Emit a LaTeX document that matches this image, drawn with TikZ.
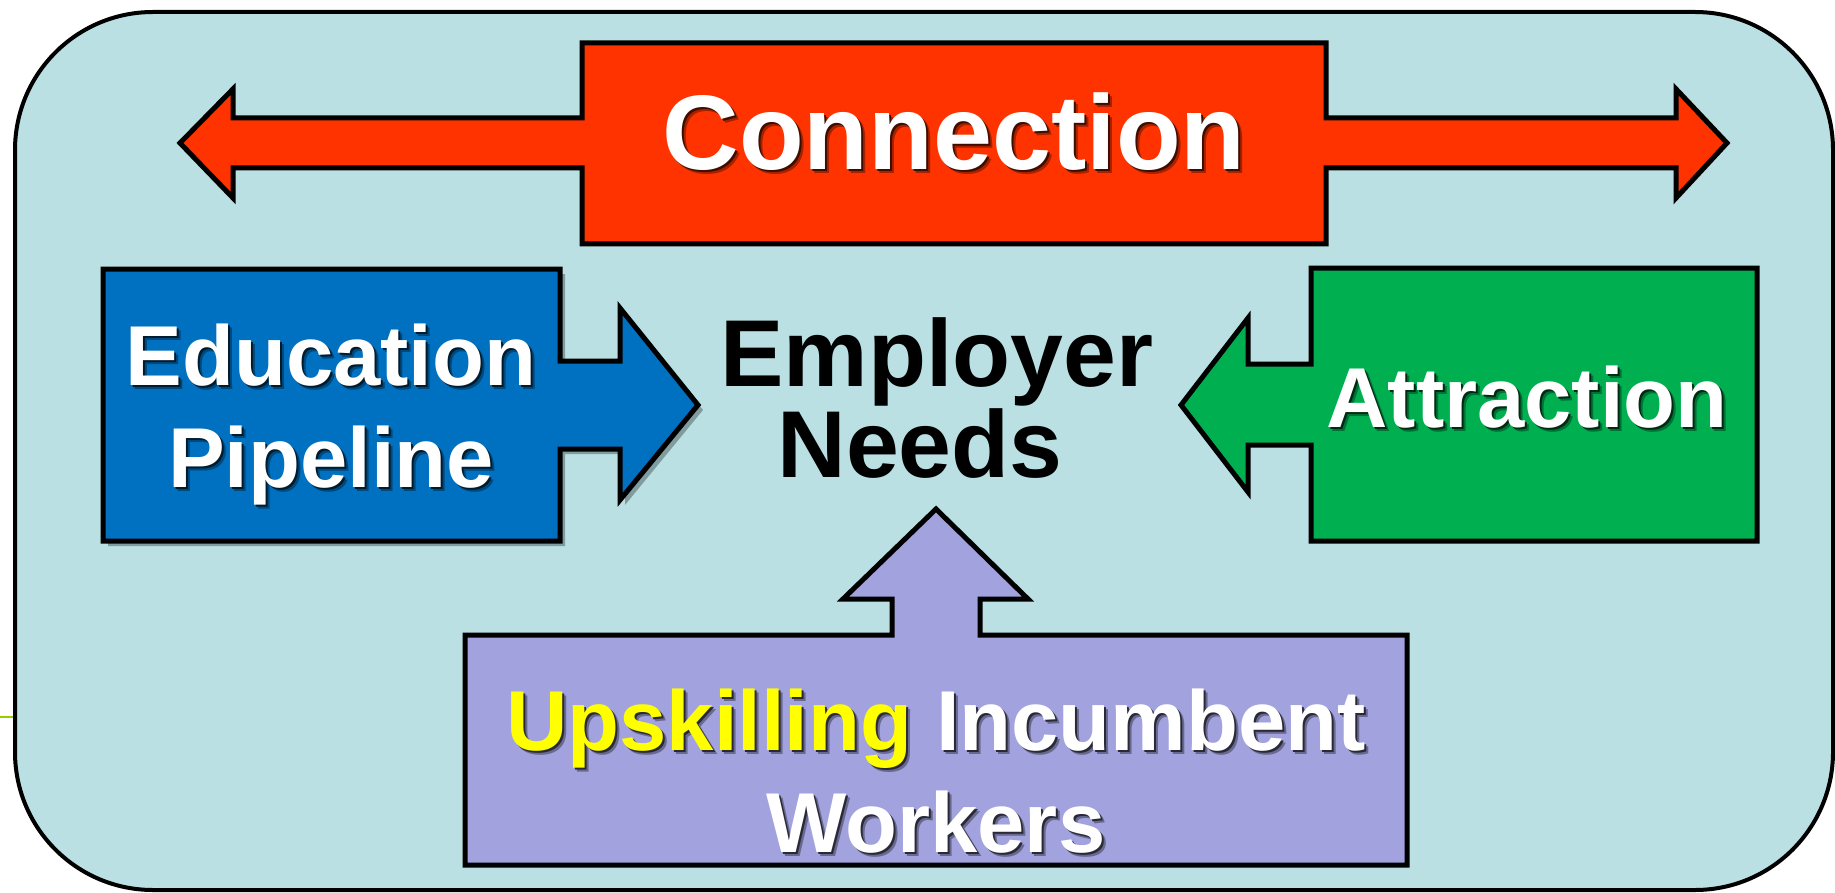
\documentclass[tikz,border=0pt]{standalone}
\usepackage{fontspec}
\newfontfamily\slidefont{Liberation Sans}
\usepackage{tikz}

\definecolor{panelblue}{HTML}{BAE0E3}
\definecolor{connred}{HTML}{FF3300}
\definecolor{edublue}{HTML}{0070C0}
\definecolor{attrgreen}{HTML}{00B050}
\definecolor{upviolet}{HTML}{A2A2DE}
\definecolor{upyellow}{HTML}{FFFF00}
\definecolor{stubgreen}{HTML}{99CC00}

\newcommand{\hlword}{\color{upyellow}}
\newcommand{\castshadow}[2]{%
  \rlap{\hspace{4pt}\raisebox{-4pt}{\color{black!35!#1}\let\hlword\relax #2}}%
  \rlap{\hspace{2pt}\raisebox{-2pt}{\color{black!75!#1}\let\hlword\relax #2}}%
  #2}

\def\edushape{(103,269) -- (560,269) -- (560,361) -- (620,361) -- (620,308) -- (698,405)
  -- (620,500) -- (620,449) -- (560,449) -- (560,541) -- (103,541) -- cycle}

\begin{document}
\begin{tikzpicture}[x=1pt, y=-1pt,
    outline/.style={draw=black, line width=5pt, line join=miter},
    titlelabel/.style={anchor=base, inner sep=0pt, text=white,
      font=\slidefont\bfseries\fontsize{106}{120}\selectfont},
    boxlabel/.style={anchor=base, inner sep=0pt, text=white,
      font=\slidefont\bfseries\fontsize{85}{102}\selectfont},
    needlabel/.style={anchor=base, inner sep=0pt, text=black,
      font=\slidefont\bfseries\fontsize{95}{102}\selectfont}]
    \useasboundingbox (0,0) rectangle (1835,893);

    \draw[stubgreen, line width=1.5pt] (0,717) -- (14,717);
    \draw[fill=panelblue, line width=4pt, rounded corners=138pt] (15,12) rectangle (1833,890);

    % connection
    \draw[outline, fill=connred] (180,143) -- (233,89) -- (233,118) -- (582,118) -- (582,43)
      -- (1326,43) -- (1326,118) -- (1676,118) -- (1676,89) -- (1727,143) -- (1676,198)
      -- (1676,168) -- (1326,168) -- (1326,244) -- (582,244) -- (582,168) -- (233,168)
      -- (233,198) -- cycle;

    % education pipeline
    \fill[black, opacity=.3, shift={(5,5)}] \edushape;
    \draw[outline, fill=edublue] \edushape;

    % attraction
    \draw[outline, fill=attrgreen] (1757,268) -- (1311,268) -- (1311,364) -- (1248,364)
      -- (1248,318) -- (1181,405) -- (1248,492) -- (1248,445) -- (1311,445) -- (1311,541)
      -- (1757,541) -- cycle;

    % upskilling
    \draw[outline, fill=upviolet] (465,635) -- (892,635) -- (892,599) -- (843,599)
      -- (936,509) -- (1028,599) -- (980,599) -- (980,635) -- (1407,635) -- (1407,865)
      -- (465,865) -- cycle;

    \node[titlelabel] (conn) at (954,170) {\castshadow{connred}{Connection}};
    \node[boxlabel] (edu1) at (331,385) {\castshadow{edublue}{Education}};
    \node[boxlabel] (edu2) at (331,487) {\castshadow{edublue}{Pipeline}};
    \node[boxlabel] (attr) at (1527,427) {\castshadow{attrgreen}{Attraction}};
    \node[boxlabel] (up1) at (936,750) {\castshadow{upviolet}{{\hlword Upskilling} Incumbent}};
    \node[boxlabel] (up2) at (936,852) {\castshadow{upviolet}{Workers}};

    \node[needlabel] (need1) at (937,386) {Employer};
    \node[needlabel] (need2) at (920,477) {Needs};

\end{tikzpicture}
\end{document}
